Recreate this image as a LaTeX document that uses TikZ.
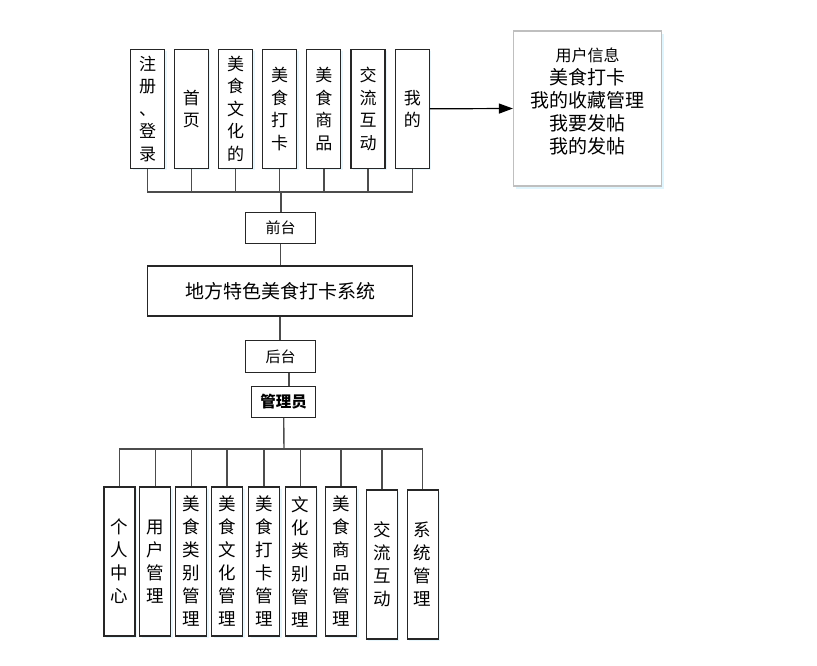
\documentclass[tikz,border=0pt]{standalone}
\usepackage{fontspec}
\setmainfont{Noto Sans CJK SC}
\usetikzlibrary{arrows.meta,shadows}
\tikzset{
  vbox/.style={
    rectangle,
    draw=black!85,
    line width=1.1pt,
    minimum width=34pt,
    minimum height=119pt,
    inner sep=0pt,
    align=center,
    fill=white,
    drop shadow={fill=cyan!25, opacity=0.35, shadow xshift=2pt, shadow yshift=-2pt},
    font=\fontsize{17pt}{22.5pt}\selectfont
  },
  link/.style={
    draw=black!70,
    line width=1.4pt
  }
}

\begin{document}
\begin{tikzpicture}[
  x=1pt, y=-1pt,
  hbox/.style={rectangle, draw=black!85, line width=1.1pt, inner sep=0pt, align=center, fill=white, font=\fontsize{15pt}{18pt}\selectfont},
  sbox/.style={vbox, minimum width=31pt, minimum height=149pt, font=\fontsize{17.5pt}{23pt}\selectfont},
  info_box/.style={rectangle, draw=black!25, line width=1.2pt, minimum width=148pt, minimum height=155pt, align=center, fill=white, drop shadow={fill=cyan!30, opacity=0.4, shadow xshift=2pt, shadow yshift=-2.5pt}, font=\fontsize{19pt}{23pt}\selectfont},
  arrow/.style={-{Triangle[length=14pt,width=10pt]}, draw=black, line width=1.2pt}
]
\useasboundingbox[fill=white] (0,0) rectangle (817,665);

% Front-end pages
\node[vbox] (reg) at (147.5, 108.8) {注\\册\\、\\登\\录};
\node[vbox] (home) at (191.3, 108.8) {首\\页};
\node[vbox] (culture) at (235.5, 108.8) {美\\食\\文\\化\\的};
\node[vbox] (checkin) at (279.5, 108.8) {美\\食\\打\\卡};
\node[vbox] (goods) at (323.8, 108.8) {美\\食\\商\\品};
\node[vbox] (forum) at (368, 108.8) {交\\流\\互\\动};
\node[vbox] (mine) at (412.3, 108.8) {我\\的};

% My page content
\node[info_box] (info) at (587.5, 108.5) {{\fontsize{16pt}{23pt}\selectfont 用户信息}\\美食打卡\\我的收藏管理\\我要发帖\\我的发帖\\[-8pt]\mbox{}};

% System core
\node[hbox, minimum width=70pt, minimum height=31pt] (front) at (280.5, 228) {前台};
\node[hbox, minimum width=265pt, minimum height=50pt, font=\fontsize{19pt}{22pt}\selectfont] (system) at (280, 291) {地方特色美食打卡系统};
\node[hbox, minimum width=70pt, minimum height=31.5pt] (back) at (280.5, 356.5) {后台};
\node[hbox, minimum width=64pt, minimum height=31pt, font=\bfseries\fontsize{15.5pt}{18pt}\selectfont] (admin) at (283.7, 401.7) {管理员};

% Back-end modules
\node[sbox] (center) at (119.5, 561.5) {个\\人\\中\\心};
\node[sbox] (users) at (155.3, 561.5) {用\\户\\管\\理};
\node[sbox] (types) at (191.2, 561.5) {美\\食\\类\\别\\管\\理};
\node[sbox] (cultmgr) at (227, 561.5) {美\\食\\文\\化\\管\\理};
\node[sbox] (checkmgr) at (264, 561.5) {美\\食\\打\\卡\\管\\理};
\node[sbox] (culttypes) at (300.7, 561.5) {文\\化\\类\\别\\管\\理};
\node[sbox] (goodsmgr) at (341, 561.5) {美\\食\\商\\品\\管\\理};
\node[sbox] (forummgr) at (381.8, 564.5) {交\\流\\互\\动};
\node[sbox] (sysmgr) at (422.7, 564.5) {系\\统\\管\\理};

% Bus junctions
\coordinate (topbus) at (281, 192);
\coordinate (botbus) at (284, 449);

% Pages to front-end
\draw[link] (reg.south) |- (topbus);
\draw[link] (home.south) |- (topbus);
\draw[link] (culture.south) |- (topbus);
\draw[link] (checkin.south) |- (topbus);
\draw[link] (goods.south) |- (topbus);
\draw[link] (forum.south) |- (topbus);
\draw[link] (mine.south) |- (topbus);
\draw[link] (topbus) -- (topbus |- front.north);

% My page to its content
\draw[arrow] (mine.east) -- (info.west);

% Front-end, system, back-end
\draw[link] (front.south) -- (front.south |- system.north);
\draw[link] (system.south) -- (system.south |- back.north);
\draw[link] ([xshift=8.5pt]back.south) -- ([xshift=8.5pt]back.south |- admin.north);
\draw[link] (admin.south) -- (botbus);

% Administrator to modules
\draw[link] (botbus) -| (center.north);
\draw[link] (botbus) -| (users.north);
\draw[link] (botbus) -| (types.north);
\draw[link] (botbus) -| (cultmgr.north);
\draw[link] (botbus) -| (checkmgr.north);
\draw[link] (botbus) -| (culttypes.north);
\draw[link] (botbus) -| (goodsmgr.north);
\draw[link] (botbus) -| (forummgr.north);
\draw[link] (botbus) -| (sysmgr.north);

\end{tikzpicture}
\end{document}
